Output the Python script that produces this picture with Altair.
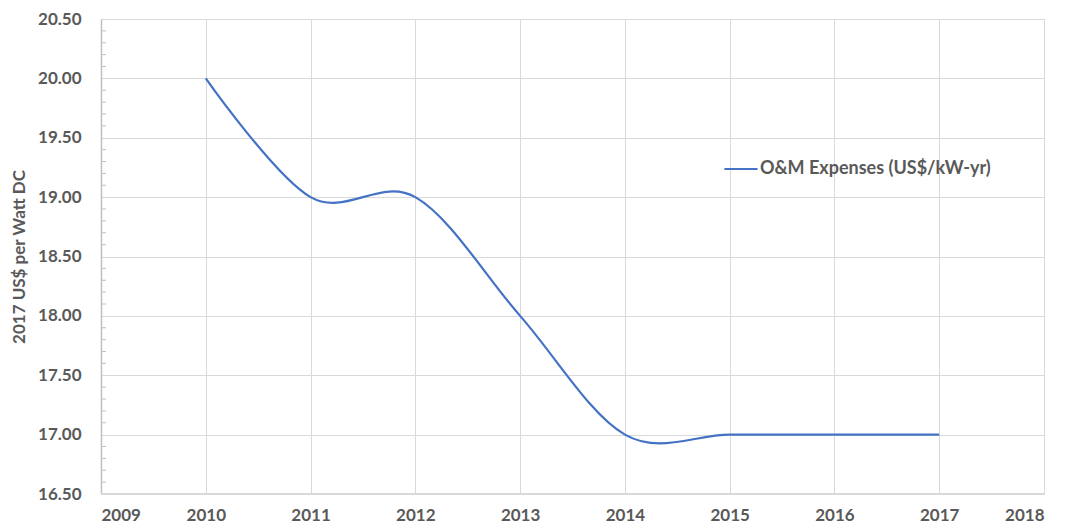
import altair as alt
import pandas as pd

years = [2010, 2011, 2012, 2013, 2014, 2015, 2016, 2017]
values = [20.0, 19.0, 19.0, 18.0, 17.0, 17.0, 17.0, 17.0]
series_name = "O&M Expenses (US$/kW-yr)"
x_ticks = [2009, 2010, 2011, 2012, 2013, 2014, 2015, 2016, 2017, 2018]
y_ticks = [16.5, 17.0, 17.5, 18.0, 18.5, 19.0, 19.5, 20.0, 20.5]
y_minor = [16.6, 16.7, 16.8, 16.9, 17.1, 17.2, 17.3, 17.4, 17.6, 17.7, 17.8, 17.9,
           18.1, 18.2, 18.3, 18.4, 18.6, 18.7, 18.8, 18.9, 19.1, 19.2, 19.3, 19.4,
           19.6, 19.7, 19.8, 19.9, 20.1, 20.2, 20.3, 20.4]

df = pd.DataFrame({"year": years, "value": values, "series": [series_name] * len(years)})
minor_df = pd.DataFrame({"v": y_minor})

FONT = "Lato"
GRAY = "#595959"

xscale = alt.Scale(domain=[2009, 2018], nice=False, zero=False)
yscale = alt.Scale(domain=[16.5, 20.5], nice=False, zero=False)

line = alt.Chart(df).mark_line(interpolate="cardinal", strokeWidth=2.2).encode(
    x=alt.X("year:Q", scale=xscale,
            axis=alt.Axis(values=x_ticks, format="d", title=None, grid=True,
                          gridColor="#d9d9d9", domain=False, ticks=False,
                          labelFont=FONT, labelFontSize=17, labelFontWeight="bold",
                          labelColor=GRAY, labelPadding=13)),
    y=alt.Y("value:Q", scale=yscale,
            axis=alt.Axis(values=y_ticks, format=".2f", title="2017 US$ per Watt DC",
                          grid=True, gridColor="#d9d9d9", domain=True,
                          domainColor="#bfbfbf", domainWidth=1.5, ticks=False,
                          labelFont=FONT, labelFontSize=17, labelFontWeight="bold",
                          labelColor=GRAY, labelPadding=20,
                          titleFont=FONT, titleFontSize=17, titleFontWeight="bold",
                          titleColor=GRAY, titlePadding=9)),
    color=alt.Color("series:N", scale=alt.Scale(range=["#4472C4"]),
                    legend=alt.Legend(title=None, orient="none", legendX=622, legendY=132,
                                      symbolType="stroke", symbolSize=1100,
                                      symbolStrokeWidth=2.2, labelFont=FONT,
                                      labelFontSize=18, labelFontWeight="bold",
                                      labelColor=GRAY, labelOffset=1, labelLimit=400)),
)

minor = alt.Chart(minor_df).mark_rule(color="#bfbfbf", strokeWidth=1).encode(
    y=alt.Y("v:Q", scale=yscale),
    x=alt.value(0),
    x2=alt.value(5),
)

bottom = alt.Chart(minor_df).mark_rule(color="#d9d9d9", strokeWidth=1).encode(
    y=alt.value(475),
    x=alt.value(0),
    x2=alt.value(943),
)

chart = alt.layer(bottom, minor, line).properties(
    width=943, height=475,
    autosize=alt.AutoSizeParams(type="none"),
    padding={"left": 93, "top": 11, "right": 20, "bottom": 30},
).configure_view(stroke=None).configure(background="white")

chart.save("out.html", embed_options={"renderer": "svg", "actions": False})
